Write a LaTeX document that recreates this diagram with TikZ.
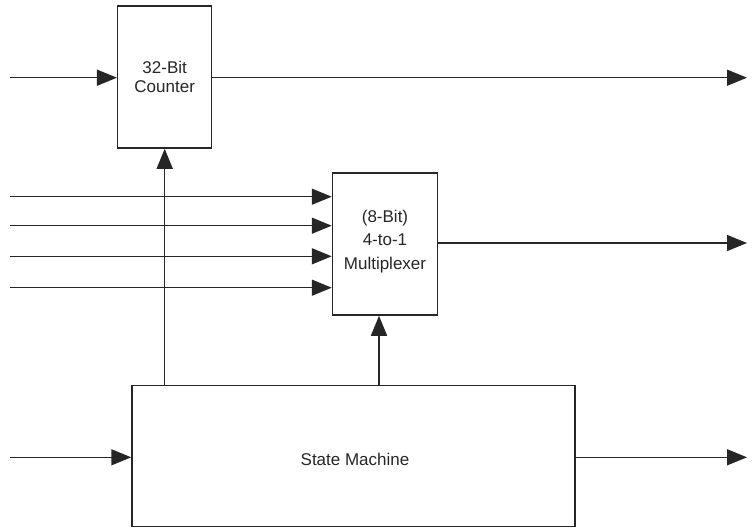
\documentclass[tikz,border=0pt]{standalone}
\usepackage{fontspec}
\setmainfont{Liberation Sans}
\usetikzlibrary{arrows.meta}
\begin{document}
\begin{tikzpicture}[x=1pt,y=-1pt,
  blk/.style={draw=black!85,line width=1.5pt,inner sep=0pt},
  lbl/.style={font=\fontsize{17}{23.5}\selectfont,text=black!85,align=center},
  sig/.style={draw=black!85,line width=1.5pt,-{Triangle[length=20pt,width=16pt]}},
  wire/.style={draw=black!85,line width=1.5pt}]
\useasboundingbox (0,0) rectangle (753,528);
% boxes
\node[blk,minimum width=94pt,minimum height=142pt] (cnt) at (164.7,77) {};
\node[lbl] (cntt) at (164.7,77) {32-Bit\\[-4.5pt]Counter};
\node[blk,minimum width=105pt,minimum height=142pt] (mux) at (385,244) {};
\node[lbl] (muxt) at (385,241.5) {(8-Bit)\\4-to-1\\Multiplexer};
\node[blk,minimum width=443pt,minimum height=141pt] (sm) at (353.5,456) {};
\node[lbl] (smt) at (355,459) {State Machine};
% free ends
\coordinate (ci) at (10,77.7);
\coordinate (co) at (747,77.7);
\coordinate (m1) at (10,196.7);
\coordinate (m2) at (10,225.7);
\coordinate (m3) at (10,256.3);
\coordinate (m4) at (10,287.7);
\coordinate (mo) at (747,243);
\coordinate (si) at (10,457.3);
\coordinate (so) at (747,457.3);
% connectors
\draw[sig] (ci) -- (ci -| cnt.west);
\draw[sig] (cnt.east |- co) -- (co);
\draw[sig] (m1) -- (m1 -| mux.west);
\draw[sig] (m2) -- (m2 -| mux.west);
\draw[sig] (m3) -- (m3 -| mux.west);
\draw[sig] (m4) -- (m4 -| mux.west);
\draw[sig] (mux.east |- mo) -- (mo);
\draw[sig] (si) -- (si -| sm.west);
\draw[sig] (sm.east |- so) -- (so);
\draw[sig] (sm.north -| cnt.south) -- (cnt.south);
\draw[sig] (sm.north -| 379,0) -- (mux.south -| 379,0);
\end{tikzpicture}
\end{document}
